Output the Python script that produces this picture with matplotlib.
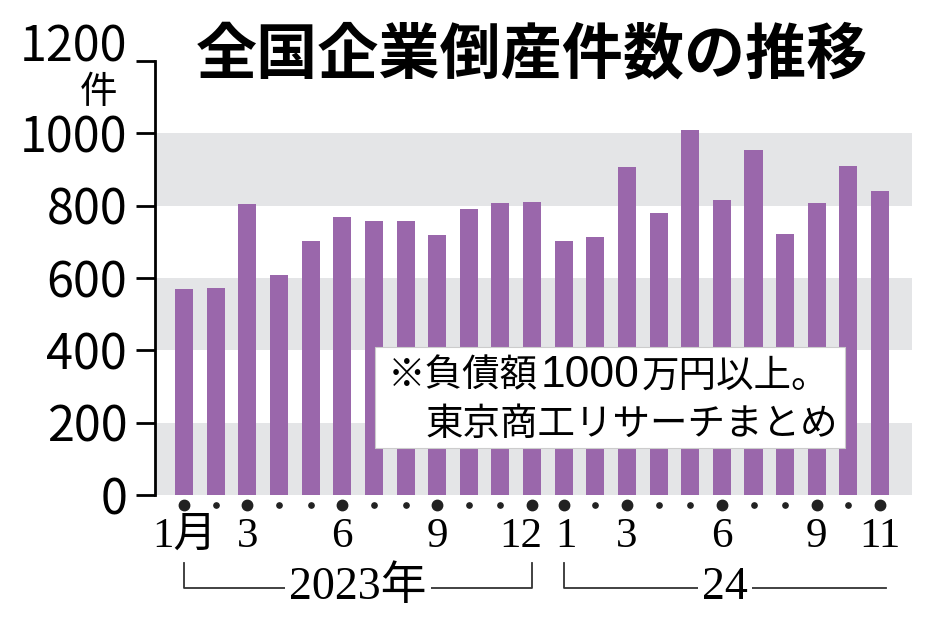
import matplotlib.pyplot as plt
import matplotlib.transforms as mtrans
from matplotlib.patches import Rectangle
from matplotlib.lines import Line2D

# 月次データ(2023年1月〜2024年11月)
months = [1, 2, 3, 4, 5, 6, 7, 8, 9, 10, 11, 12,
          1, 2, 3, 4, 5, 6, 7, 8, 9, 10, 11]
counts = [570, 573, 804, 609, 703, 770, 757, 758, 720, 792, 806, 809,
          701, 713, 906, 780, 1009, 817, 953, 722, 806, 909, 840]
label_months = [1, 3, 6, 9, 12]
y_ticks = [0, 200, 400, 600, 800, 1000, 1200]
y_labels = ['0', '200', '400', '600', '800', '1000', '1200']
years = ['2023年', '24']

BAR = '#9a67ab'
BAND = '#e4e5e7'
SANS = ['Liberation Sans Narrow', 'Noto Sans CJK JP', 'DejaVu Sans']
SERIF = ['Liberation Serif', 'Noto Sans CJK JP', 'DejaVu Serif']
JP = ['Noto Sans CJK JP', 'DejaVu Sans']

W, H = 934, 632
fig = plt.figure(figsize=(W / 100, H / 100), dpi=100)
ax = fig.add_axes([155 / W, 1 - 495 / H, (912 - 155) / W, (495 - 61) / H])


def shift(artist, dx, dy):
    # ピクセル単位でずらす
    artist.set_transform(artist.get_transform() +
                         mtrans.ScaledTranslation(dx / 100, dy / 100, fig.dpi_scale_trans))


x = list(range(len(counts)))
for lo in (0, 400, 800):
    ax.axhspan(lo, lo + 200, color=BAND, lw=0, zorder=0)
ax.bar(x, counts, width=0.57, color=BAR, zorder=2)

ax.set_xlim(-0.92, len(counts) + 0.01)
ax.set_ylim(0, 1200)
for s in ('top', 'right', 'bottom'):
    ax.spines[s].set_visible(False)
ax.spines['left'].set_linewidth(2)
ax.tick_params(axis='y', length=14, width=2, pad=6)
ax.set_yticks(y_ticks)
ax.set_yticklabels(y_labels, family=SANS, fontsize=35)
shift(ax.get_yticklabels()[-1], 0, 19)  # 1200 は少し上へ

# 月ラベル
last = len(counts) - 1
tick_pos = [i for i, m in enumerate(months) if m in label_months or i == last]
tick_lab = [('1月' if i == 0 else str(months[i])) for i in tick_pos]
ax.set_xticks(tick_pos)
ax.set_xticklabels(tick_lab, family=SERIF, fontsize=31)
ax.tick_params(axis='x', length=0, pad=16)
for t in ax.get_xticklabels():
    if t.get_text() == '12':
        shift(t, -11, 0)
    elif t.get_text() == '1':
        shift(t, 2, 0)

# ドット
tr = ax.get_xaxis_transform()
big = [i for i in x if i in tick_pos]
small = [i for i in x if i not in tick_pos]
ax.plot(big, [-0.023] * len(big), 'o', ms=7.5, color='#222222', transform=tr, clip_on=False)
ax.plot(small, [-0.023] * len(small), 'o', ms=3.8, color='#222222', transform=tr, clip_on=False)

# 年の括弧
y_top, y_bot = -0.157, -0.214
kw = dict(color='#333333', lw=1.3, transform=tr, clip_on=False)
ax.add_line(Line2D([0, 0, 11, 11], [y_top, y_bot, y_bot, y_top], **kw))
ax.add_line(Line2D([12, 12, 22.2], [y_top, y_bot, y_bot], **kw))
ax.text(5.5, y_bot, years[0], transform=tr, ha='center', va='center', family=SERIF,
        fontsize=33, bbox=dict(fc='white', ec='none', pad=3))
ax.text(17.1, y_bot, years[1], transform=tr, ha='center', va='center', family=SERIF,
        fontsize=33, bbox=dict(fc='white', ec='none', pad=3))

# タイトル・単位
fig.text(532 / W, 1 - 57 / H, '全国企業倒産件数の推移', ha='center', va='center',
         family=JP, fontsize=44, weight='bold')
fig.text(99 / W, 1 - 93 / H, '件', ha='center', va='center', family=JP, fontsize=27)

# 注記
fig.patches.append(Rectangle((375 / W, 1 - 448 / H), (845 - 375) / W, (448 - 347) / H,
                             transform=fig.transFigure, fc='white', ec='#cccccc', lw=0.8, zorder=5))
t1 = fig.text(388 / W, 1 - 376 / H, '※負債額', ha='left', va='center',
              family=JP, fontsize=27, zorder=6)
fig.canvas.draw()
bb = t1.get_window_extent()
t2 = fig.text(bb.x1 / W + 2 / W, 1 - 375 / H, '1000', ha='left', va='center',
              family=['Liberation Sans', 'DejaVu Sans'], fontsize=32, zorder=6)
fig.canvas.draw()
bb2 = t2.get_window_extent()
fig.text(bb2.x1 / W + 3 / W, 1 - 376 / H, '万円以上。', ha='left', va='center',
         family=JP, fontsize=27, zorder=6)
fig.text(425 / W, 1 - 424 / H, '東京商工リサーチまとめ', ha='left', va='center',
         family=JP, fontsize=27, zorder=6)

fig.savefig('out.png', dpi=100)
